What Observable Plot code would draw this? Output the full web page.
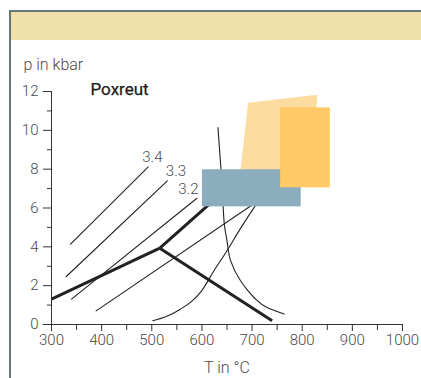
<!DOCTYPE html>
<html>
<head>
<meta charset="utf-8">
<script src="https://cdn.jsdelivr.net/npm/d3@7"></script>
<script src="https://cdn.jsdelivr.net/npm/@observablehq/plot@0.6"></script>
<style>
  html, body { margin: 0; padding: 0; background: #fff; width: 421px; height: 378px; overflow: hidden; }
  #frame { position: absolute; left: 9px; top: 10px; width: 420px; height: 380px;
           border-left: 2.5px solid #66777b; border-top: 2px solid #66777b; box-sizing: border-box; }
  #band { position: absolute; left: 0; top: 0; right: 0; height: 28px; background: #eee0a8; }
  #chart { position: absolute; left: 0; top: 40px; }
</style>
</head>
<body>
<div id="frame"><div id="band"></div></div>
<div id="chart"></div>
<script>
// ---- data (T in °C, p in kbar) ----
const xMajorTicks = [300, 400, 500, 600, 700, 800, 900, 1000];
const xMinorTicks = [350, 450, 550, 650, 750, 850, 950];
const yMajorTicks = [0, 2, 4, 6, 8, 10, 12];
const yMinorTicks = [1, 3, 5, 7, 9, 11];

// Si-isopleths of phengite
const iso34T = [338, 493], iso34P = [4.14, 8.12];
const iso33T = [329, 531], iso33P = [2.46, 7.40];
const iso32T = [340, 590], iso32P = [1.31, 6.50];
const isoLabels = ["3.4", "3.3", "3.2"];
const isoLabelT = [481, 528, 553];
const isoLabelP = [8.6, 7.91, 6.97];

// other thin reaction lines
const lineAT = [389, 708], lineAP = [0.70, 6.30];
const curveBT = [502, 530, 557, 580, 599, 624, 650, 677, 704, 716];
const curveBP = [0.19, 0.42, 0.79, 1.20, 1.72, 2.77, 3.80, 4.95, 6.02, 6.45];
const curveCT = [632, 638, 642, 645, 650, 657, 677, 690, 704, 730, 764];
const curveCP = [10.14, 8.0, 6.20, 5.10, 4.31, 3.30, 2.25, 1.80, 1.39, 0.88, 0.54];

// Al2SiO5 triple point system (thick)
const kyAndT = [300, 516], kyAndP = [1.31, 3.93];
const andSilT = [516, 740], andSilP = [3.93, 0.19];
const kySilT = [516, 630], kySilP = [3.93, 6.55];

// P-T fields
const lightFieldT = [692, 830, 820, 675];
const lightFieldP = [11.42, 11.83, 7.5, 7.5];
const blueBoxT = [601, 798], blueBoxP = [6.06, 7.97];
const orangeBoxT = [757, 856], orangeBoxP = [7.04, 11.16];

const title = "Poxreut";
const xLabel = "T in °C";
const yLabel = "p in kbar";

// ---- build tables ----
const zip = (T, P, id) => T.map((t, i) => ({T: t, p: P[i], id}));
const thin = [
  ...zip(iso34T, iso34P, "3.4"),
  ...zip(iso33T, iso33P, "3.3"),
  ...zip(iso32T, iso32P, "3.2"),
  ...zip(lineAT, lineAP, "A")
];
const curveB = zip(curveBT, curveBP, "B");
const curveC = zip(curveCT, curveCP, "C");
const thick = [
  ...zip(kyAndT, kyAndP, "ky-and"),
  ...zip(andSilT, andSilP, "and-sil"),
  ...zip(kySilT, kySilP, "ky-sil")
];
const labels = isoLabels.map((s, i) => ({s, T: isoLabelT[i], p: isoLabelP[i]}));
const lightField = zip(lightFieldT, lightFieldP, "light");

const ink = "#222";
const textCol = "#4a4a4a";
const fmt = d => String(d);

const chart = Plot.plot({
  width: 421,
  height: 338,
  marginLeft: 51,
  marginRight: 19,
  marginTop: 51,
  marginBottom: 54,
  style: {fontFamily: "Roboto, 'Liberation Sans', sans-serif", fontSize: "15px", color: textCol, background: "transparent"},
  x: {domain: [300, 1000]},
  y: {domain: [0, 12]},
  marks: [
    Plot.line(thin, {x: "T", y: "p", z: "id", stroke: ink, strokeWidth: 1.1}),
    Plot.line(curveB, {x: "T", y: "p", stroke: ink, strokeWidth: 1.1, curve: "monotone-x"}),
    Plot.line(curveC, {x: "T", y: "p", stroke: ink, strokeWidth: 1.1, curve: "monotone-y"}),
    Plot.line(thick, {x: "T", y: "p", z: "id", stroke: ink, strokeWidth: 3, strokeLinecap: "butt"}),
    Plot.line(lightField, {x: "T", y: "p", fill: "#fddca1", stroke: "none"}),
    Plot.rect([0], {x1: () => blueBoxT[0], x2: () => blueBoxT[1], y1: () => blueBoxP[0], y2: () => blueBoxP[1], fill: "#8badbd"}),
    Plot.rect([0], {x1: () => orangeBoxT[0], x2: () => orangeBoxT[1], y1: () => orangeBoxP[0], y2: () => orangeBoxP[1], fill: "#ffca66"}),
    Plot.text(labels, {x: "T", y: "p", text: "s", textAnchor: "start", fill: textCol, fontSize: 15, fontWeight: 300}),
    // axes
    Plot.ruleX([300], {y1: 0, y2: 12, stroke: "#333", strokeWidth: 1}),
    Plot.ruleY([0], {x1: 300, x2: 1000, stroke: "#333", strokeWidth: 1}),
    Plot.axisX({ticks: xMajorTicks, tickFormat: fmt, tickSize: 7, tickPadding: 3, label: null, stroke: "#333", fill: textCol, fontWeight: 300, fontSize: 15}),
    Plot.axisX({ticks: xMinorTicks, tickSize: 6, tickFormat: () => "", label: null, stroke: "#333"}),
    Plot.axisY({ticks: yMajorTicks, tickFormat: fmt, tickSize: 8, tickPadding: 5, label: null, stroke: "#333", fill: textCol, fontWeight: 300, fontSize: 15}),
    Plot.axisY({ticks: yMinorTicks, tickSize: 4, tickFormat: () => "", label: null, stroke: "#333"}),
    Plot.text([yLabel], {frameAnchor: "top-left", textAnchor: "start", lineAnchor: "middle", dx: -28, dy: -27, fill: textCol, fontSize: 16, fontWeight: 300}),
    Plot.text([title], {frameAnchor: "top-left", textAnchor: "start", lineAnchor: "middle", dx: 39, dy: -2, fill: "#1a1a1a", fontSize: 17, fontWeight: 400, stroke: "#1a1a1a", strokeWidth: 0.25}),
    Plot.text([xLabel], {frameAnchor: "bottom", textAnchor: "middle", lineAnchor: "middle", dy: 43, fill: textCol, fontSize: 16, fontWeight: 300})
  ]
});
document.getElementById("chart").appendChild(chart);
</script>
</body>
</html>
